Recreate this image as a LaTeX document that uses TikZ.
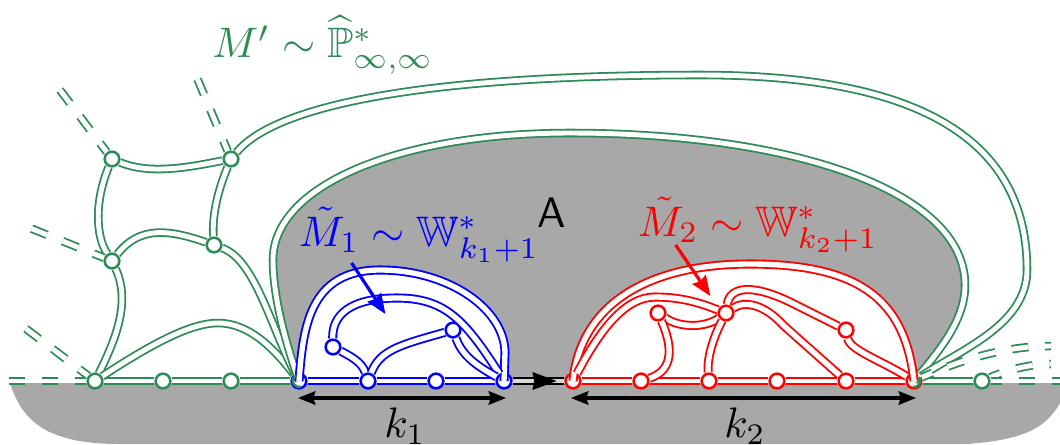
\documentclass[tikz,border=0pt]{standalone}
\usepackage{amsmath,amssymb}
\usetikzlibrary{arrows.meta}
\definecolor{mygreen}{HTML}{2E8B57}
\definecolor{mygray}{HTML}{A8A8A8}
\pgfdeclarelayer{back}
\pgfsetlayers{back,main}
\tikzset{
  x=0.75pt,y=-0.75pt,
  dbl/.style={line width=1.35pt,double=white,double distance=3.7pt,#1},
  dbl/.default=mygreen,
  thickdbl/.style={line width=1.4pt,double=white,double distance=4pt,#1},
  basedbl/.style={line width=1.5pt,double=white,double distance=2.4pt,#1},
  dashdbl/.style={dbl=mygreen,dash pattern=on 12.5pt off 12.5pt,dash phase=4pt},
  vtx/.style={circle,draw=#1,fill=white,line width=1.9pt,minimum size=11pt,inner sep=0pt},
  lab/.style={scale=3.2,inner sep=0pt},
  bigarrow/.style={-{Stealth[length=15pt,width=12pt,inset=1.5pt]},line width=2.4pt},
  blackarrow/.style={-{Stealth[length=18pt,width=13pt,inset=1pt]},line width=2pt},
  dimarrow/.style={{Stealth[length=13pt,width=10pt,inset=1.5pt]}-{Stealth[length=13pt,width=10pt,inset=1.5pt]},line width=2.5pt,black},
}
\begin{document}
\begin{tikzpicture}
\useasboundingbox (0,0) rectangle (1060,444);
% vertices
\node[vtx=mygreen] (g1) at (112,159) {};
\node[vtx=mygreen] (g2) at (231,159) {};
\node[vtx=mygreen] (g3) at (112,261) {};
\node[vtx=mygreen] (g4) at (214,245) {};
\node[vtx=mygreen] (g5) at (95,381) {};
\node[vtx=mygreen] (g6) at (163,381) {};
\node[vtx=mygreen] (g7) at (231,381) {};
\node[vtx=mygreen] (g8) at (982,381) {};
\node[vtx=blue] (b0) at (299,381) {};
\node[vtx=blue] (b1) at (368,381) {};
\node[vtx=blue] (b2) at (436,381) {};
\node[vtx=blue] (b3) at (504,381) {};
\node[vtx=blue] (b4) at (333,347) {};
\node[vtx=blue] (b5) at (453,330) {};
\node[vtx=red] (r0) at (573,381) {};
\node[vtx=red] (r1) at (641,381) {};
\node[vtx=red] (r2) at (709,381) {};
\node[vtx=red] (r3) at (777,381) {};
\node[vtx=red] (r4) at (846,381) {};
\node[vtx=red] (r5) at (914,381) {};
\node[vtx=red] (r6) at (658,313) {};
\node[vtx=red] (r7) at (726,313) {};
\node[vtx=red] (r8) at (846,330) {};
\coordinate (s1) at (60,90);
\coordinate (s2) at (197,78);
\coordinate (s3) at (30,228);
\coordinate (s4) at (25,328);
\coordinate (s5) at (9,381);
\coordinate (s6) at (1051,346);
\coordinate (s7) at (1051,364);
\coordinate (s8) at (1060,381);
\def\greypath{(b0.center) .. controls (288,350) and (273,300) .. (273,260)
   .. controls (273,185) and (400,133) .. (570,133)
   .. controls (790,133) and (965,190) .. (965,285)
   .. controls (965,320) and (940,350) .. (r5.center)}
\def\bluepath{(b0.center) .. controls (303,330) and (308,270) .. (380,270)
   .. controls (450,270) and (505,310) .. (505,353) -- (b3.center)}
\def\redpath{(r0.center) .. controls (580,310) and (640,264) .. (750,264)
   .. controls (860,264) and (905,300) .. (r5.center)}
\begin{pgfonlayer}{back}
  \fill[mygray] (10,383) .. controls (22,420) and (45,444) .. (120,444)
     -- (967,444) .. controls (1020,440) and (1045,430) .. (1060,403)
     -- (1060,383) -- cycle;
  \fill[mygray] \greypath -- cycle;
  \fill[white] \bluepath -- cycle;
  \fill[white] \redpath -- cycle;
\end{pgfonlayer}
% green network
\draw[basedbl=mygreen] (b0) -- (g7);
\draw[basedbl=mygreen] (g7) -- (g6);
\draw[basedbl=mygreen] (g6) -- (g5);
\draw[basedbl=mygreen] (r5) -- (g8);
\draw[dbl] (g1) .. controls (150,175) and (190,167) .. (g2);
\draw[dbl] (g1) .. controls (95,200) and (95,235) .. (g3);
\draw[dbl] (g2) .. controls (218,190) and (212,215) .. (g4);
\draw[dbl] (g3) .. controls (140,225) and (170,230) .. (g4);
\draw[dbl] (g3) .. controls (130,300) and (118,335) .. (g5);
\draw[dbl] (g5) .. controls (150,345) and (190,323) .. (218,323)
   .. controls (250,323) and (275,350) .. (b0);
\draw[dbl] (g4) .. controls (255,260) and (270,325) .. (b0);
\draw[dbl] \greypath;
\draw[dbl] (g2) .. controls (280,100) and (450,75) .. (700,75)
   .. controls (920,75) and (1027,140) .. (1027,270)
   .. controls (1027,325) and (960,350) .. (r5);
% dashed stubs
\draw[dashdbl] (g1) -- (s1);
\draw[dashdbl] (g2) -- (s2);
\draw[dashdbl] (g3) -- (s3);
\draw[dashdbl] (g5) -- (s4);
\draw[dashdbl] (g5) -- (s5);
\draw[dashdbl] (r5) .. controls (960,360) and (1005,346) .. (s6);
\draw[dashdbl] (g8) .. controls (1000,373) and (1025,364) .. (s7);
\draw[dashdbl] (g8) -- (s8);
% blue network
\draw[thickdbl=blue] \bluepath;
\draw[basedbl=blue] (b0) -- (b1);
\draw[basedbl=blue] (b1) -- (b2);
\draw[basedbl=blue] (b2) -- (b3);
\draw[thickdbl=blue] (b4) .. controls (332,315) and (350,298) .. (397,298)
   .. controls (445,298) and (465,320) .. (b3);
\draw[thickdbl=blue] (b4) .. controls (350,356) and (362,362) .. (b1);
\draw[thickdbl=blue] (b1) .. controls (380,350) and (400,345) .. (b5);
\draw[thickdbl=blue] (b5) .. controls (462,355) and (475,365) .. (b3);
% red network
\draw[thickdbl=red] \redpath;
\draw[basedbl=red] (r0) -- (r1);
\draw[basedbl=red] (r1) -- (r2);
\draw[basedbl=red] (r2) -- (r3);
\draw[basedbl=red] (r3) -- (r4);
\draw[basedbl=red] (r4) -- (r5);
\draw[thickdbl=red] (r0) .. controls (600,330) and (625,297) .. (655,297)
   .. controls (685,297) and (705,305) .. (r7);
\draw[thickdbl=red] (r6) .. controls (680,328) and (705,328) .. (r7);
\draw[thickdbl=red] (r6) .. controls (672,345) and (675,370) .. (r1);
\draw[thickdbl=red] (r7) .. controls (712,340) and (707,360) .. (r2);
\draw[thickdbl=red] (r7) .. controls (745,300) and (765,305) .. (783,325) -- (r4);
\draw[thickdbl=red] (r7) .. controls (730,285) and (755,285) .. (790,302) -- (r8);
\draw[thickdbl=red] (r8) .. controls (850,350) and (880,360) .. (r5);
% rings of two colours
\draw[mygreen,line width=1.9pt] ([shift={(120:4.6pt)}]b0.center) arc[start angle=120,end angle=290,radius=4.6pt];
\draw[mygreen,line width=1.9pt] ([shift={(-100:4.6pt)}]r5.center) arc[start angle=-100,end angle=40,radius=4.6pt];
% arrows
\draw[dbl=black,line width=1pt,double=mygray!45!white,double distance=3.4pt] (b3) -- (r0);
\node[inner sep=0pt,minimum size=0pt] (at0) at (557,381) {};
\coordinate (at1) at (534,381);
\draw[blackarrow,black] (at1) -- (at0);
\node[inner sep=0pt] (d1) at (297,398) {};
\node[inner sep=0pt] (d2) at (507,398) {};
\node[inner sep=0pt] (d3) at (570,398) {};
\node[inner sep=0pt] (d4) at (917,398) {};
\draw[dimarrow] (d1) -- (d2);
\draw[dimarrow] (d3) -- (d4);
\node[inner sep=0pt] (a1) at (351,262) {};
\node[inner sep=0pt] (a2) at (386,315) {};
\node[inner sep=0pt] (a3) at (675,244) {};
\node[inner sep=0pt] (a4) at (711,297) {};
\draw[bigarrow,blue] (a1) -- (a2);
\draw[bigarrow,red] (a3) -- (a4);
% labels
\node[lab,text=mygreen] (t1) at (323,45) {$M'\sim\widehat{\mathbb{P}}^*_{\infty,\infty}$};
\node[lab,text=blue] (t2) at (419,235) {$\tilde M_1\sim\mathbb{W}^*_{k_1+1}$};
\node[lab,text=red] (t3) at (758,225) {$\tilde M_2\sim\mathbb{W}^*_{k_2+1}$};
\node[lab,font=\sffamily] (t4) at (552,213) {A};
\node[lab] (t5) at (405,426) {$k_1$};
\node[lab] (t6) at (745,426) {$k_2$};
\end{tikzpicture}
\end{document}
